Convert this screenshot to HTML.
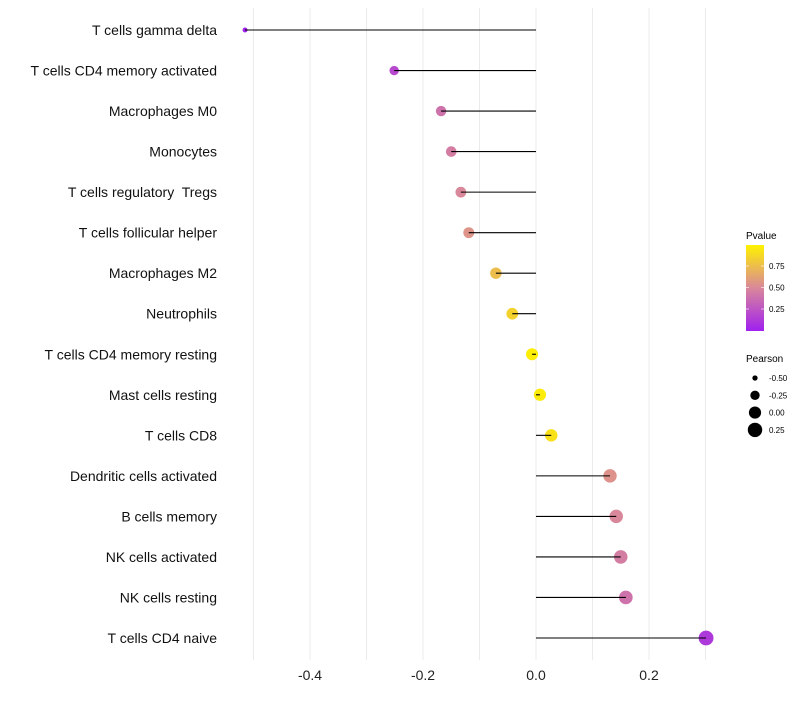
<!DOCTYPE html>
<html><head><meta charset="utf-8"><style>
body{margin:0;background:#fff;font-family:"Liberation Sans",sans-serif}
text{white-space:pre}
</style></head><body>
<svg id="chart" width="800" height="700" xmlns="http://www.w3.org/2000/svg" font-family="Liberation Sans, sans-serif">
<defs><linearGradient id="pg" x1="0" y1="1" x2="0" y2="0">
<stop offset="0" stop-color="#a020f0"/><stop offset="0.5" stop-color="#d9879a"/><stop offset="1" stop-color="#fff200"/></linearGradient></defs>
<g id="grid"></g><g id="marks"></g><g id="labels"></g>
<g>
<text x="746" y="239" font-size="10">Pvalue</text>
<rect x="746" y="245" width="18" height="86" fill="url(#pg)"/>
<g id="pleg"></g>
</g>
<g>
<text x="746" y="362" font-size="10">Pearson</text>
<g id="sleg"></g>
</g>
</svg>
<script>
const categories=["T cells gamma delta","T cells CD4 memory activated","Macrophages M0","Monocytes","T cells regulatory  Tregs","T cells follicular helper","Macrophages M2","Neutrophils","T cells CD4 memory resting","Mast cells resting","T cells CD8","Dendritic cells activated","B cells memory","NK cells activated","NK cells resting","T cells CD4 naive"];
const pearson=[-0.515,-0.251,-0.168,-0.150,-0.133,-0.119,-0.071,-0.042,-0.007,0.007,0.027,0.131,0.142,0.150,0.159,0.301];
const pvalue=[0.01,0.2,0.40,0.45,0.50,0.56,0.75,0.85,0.98,0.97,0.92,0.55,0.50,0.45,0.40,0.12];
const xTicks=[-0.4,-0.2,0.0,0.2];
const gridVals=[-0.5,-0.4,-0.3,-0.2,-0.1,0,0.1,0.2,0.3];
const pTicks=[0.25,0.5,0.75];
const sTicks=[-0.5,-0.25,0,0.25];
const NS="http://www.w3.org/2000/svg";
const x=v=>536+v*565;
const y=i=>30+i*(608/15);
const r=v=>Math.sqrt(Math.max(3,7+(v+0.5)*60));
function lerp(a,b,t){return a.map((c,i)=>Math.round(c+(b[i]-c)*t));}
function col(p){const s=[[160,32,240],[217,135,154],[255,242,0]];
 const c=p<0.5?lerp(s[0],s[1],p/0.5):lerp(s[1],s[2],(p-0.5)/0.5);return `rgb(${c})`;}
function el(t,a,parent){const e=document.createElementNS(NS,t);for(const k in a)e.setAttribute(k,a[k]);parent.appendChild(e);return e;}
const grid=document.getElementById('grid'),marks=document.getElementById('marks'),labels=document.getElementById('labels');
gridVals.forEach(v=>{const l=el('line',{x1:x(v),x2:x(v),y1:8,y2:660,stroke:'#ebebeb','stroke-width':1},grid);

});
xTicks.forEach(v=>{const t=el('text',{x:x(v),y:680,'font-size':14,'text-anchor':'middle',fill:'#222'},labels);t.textContent=v.toFixed(1);

});
categories.forEach((c,i)=>{const t=el('text',{x:217,y:y(i)+5,'font-size':14,'text-anchor':'end',fill:'#111'},labels);t.textContent=c;


const d=el('circle',{cx:x(pearson[i]),cy:y(i),r:r(pearson[i]),fill:col(pvalue[i])},marks);

});
categories.forEach((c,i)=>{const s=el('line',{x1:x(0),x2:x(pearson[i]),y1:y(i),y2:y(i),stroke:'#000','stroke-width':1.1},marks);

});
const pleg=document.getElementById('pleg');
pTicks.forEach(p=>{const yy=330.5-p*86;el('line',{x1:746,x2:749,y1:yy,y2:yy,stroke:'#fff','stroke-width':0.6},pleg);el('line',{x1:761,x2:764,y1:yy,y2:yy,stroke:'#fff','stroke-width':0.6},pleg);
const t=el('text',{x:769,y:yy+3,'font-size':8},pleg);t.textContent=p.toFixed(2);

});
const sleg=document.getElementById('sleg');
sTicks.forEach((s,i)=>{const yy=378+i*17.3;const c=el('circle',{cx:755,cy:yy,r:r(s)},sleg);


const t=el('text',{x:769,y:yy+3,'font-size':8},sleg);t.textContent=s.toFixed(2);

});
</script>
</body></html>
